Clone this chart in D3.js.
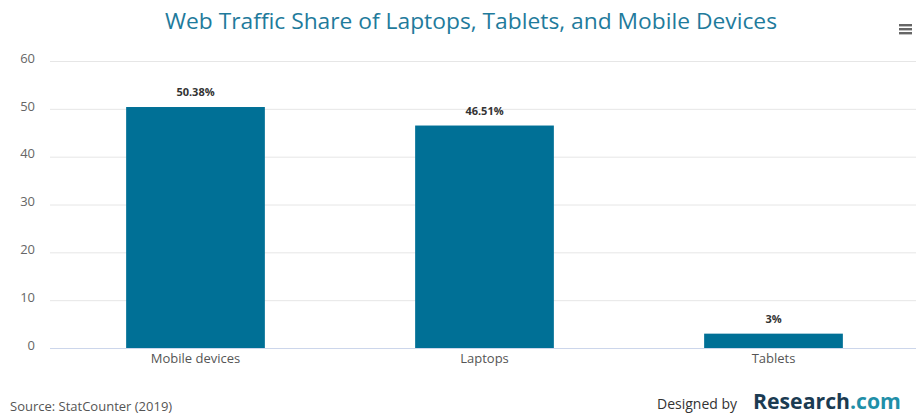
<!DOCTYPE html>
<html>
<head>
<meta charset="utf-8">
<script src="https://cdn.jsdelivr.net/npm/d3@7"></script>
<style>
  body { margin: 0; background: #fff; }
  svg { font-family: "Open Sans", sans-serif; }
</style>
</head>
<body>
<div class="canvas"></div>
<script>
const categories = ["Mobile devices", "Laptops", "Tablets"];
const shares = [50.38, 46.51, 3];
const shareLabels = ["50.38%", "46.51%", "3%"];
const yTicks = [0, 10, 20, 30, 40, 50, 60];

const width = 916, height = 415;
const margin = {top: 61, right: -2, bottom: 67, left: 51};

const svg = d3.select(".canvas").append("svg")
  .attr("width", width)
  .attr("height", height);

const y = d3.scaleLinear()
  .domain([0, 60])
  .range([height - margin.bottom, margin.top]);

const x = d3.scaleBand()
  .domain(categories)
  .range([margin.left, width - margin.right])
  .paddingInner(0.52)
  .paddingOuter(0.26);

// grid lines
svg.append("g")
  .selectAll("line")
  .data(yTicks.filter(d => d > 0))
  .enter().append("line")
  .attr("x1", 50).attr("x2", width)
  .attr("y1", d => y(d) + 0.5).attr("y2", d => y(d) + 0.5)
  .attr("stroke", "#e6e6e6");

// y axis labels
const yAxis = d3.axisLeft(y).tickValues(yTicks).tickSize(0).tickPadding(0);
svg.append("g")
  .attr("transform", "translate(35,-3)")
  .call(yAxis)
  .call(g => g.select(".domain").remove())
  .selectAll("text")
  .attr("font-family", "Open Sans")
  .attr("font-size", 13)
  .attr("fill", "#666");

// bars
svg.selectAll("rect.bar")
  .data(shares)
  .enter().append("rect")
  .attr("class", "bar")
  .attr("x", (d, i) => x(categories[i]))
  .attr("y", d => y(d))
  .attr("width", x.bandwidth())
  .attr("height", d => y(0) - y(d))
  .attr("fill", "#007096");

// baseline
svg.append("line")
  .attr("x1", 50).attr("x2", width)
  .attr("y1", y(0) + 0.5).attr("y2", y(0) + 0.5)
  .attr("stroke", "#ccd6eb");

// x axis labels
const xAxis = d3.axisBottom(x).tickSize(0).tickPadding(6);
svg.append("g")
  .attr("transform", `translate(0,${y(0)})`)
  .call(xAxis)
  .call(g => g.select(".domain").remove())
  .selectAll("text")
  .attr("font-family", "Open Sans")
  .attr("font-size", 13)
  .attr("fill", "#555");

// value labels
svg.selectAll("text.val")
  .data(shares)
  .enter().append("text")
  .attr("class", "val")
  .attr("x", (d, i) => x(categories[i]) + x.bandwidth() / 2)
  .attr("y", d => y(d) - 11)
  .attr("text-anchor", "middle")
  .attr("font-size", 11)
  .attr("font-weight", "bold")
  .attr("fill", "#333")
  .text((d, i) => shareLabels[i]);

// title
svg.append("text")
  .attr("x", 471)
  .attr("y", 29)
  .attr("text-anchor", "middle")
  .attr("font-size", 22)
  .attr("textLength", 612)
  .attr("lengthAdjust", "spacingAndGlyphs")
  .attr("fill", "#1f7b9c")
  .text("Web Traffic Share of Laptops, Tablets, and Mobile Devices");

// menu icon
svg.append("g")
  .selectAll("rect")
  .data([0, 1, 2])
  .enter().append("rect")
  .attr("x", 899).attr("y", d => 24 + d * 4)
  .attr("width", 13).attr("height", 2.4)
  .attr("fill", "#666");

// footer
svg.append("text")
  .attr("x", 10).attr("y", 411)
  .attr("font-size", 13)
  .attr("fill", "#555")
  .text("Source: StatCounter (2019)");

svg.append("text")
  .attr("x", 657).attr("y", 409)
  .attr("font-size", 14)
  .attr("fill", "#333")
  .text("Designed by");

const brand = svg.append("text")
  .attr("x", 753).attr("y", 409)
  .attr("font-size", 21)
  .attr("font-weight", "bold")
  .attr("textLength", 148)
  .attr("lengthAdjust", "spacingAndGlyphs");
brand.append("tspan").attr("fill", "#1b3b52").text("Research");
brand.append("tspan").attr("fill", "#1f8fa8").text(".com");
</script>
</body>
</html>
